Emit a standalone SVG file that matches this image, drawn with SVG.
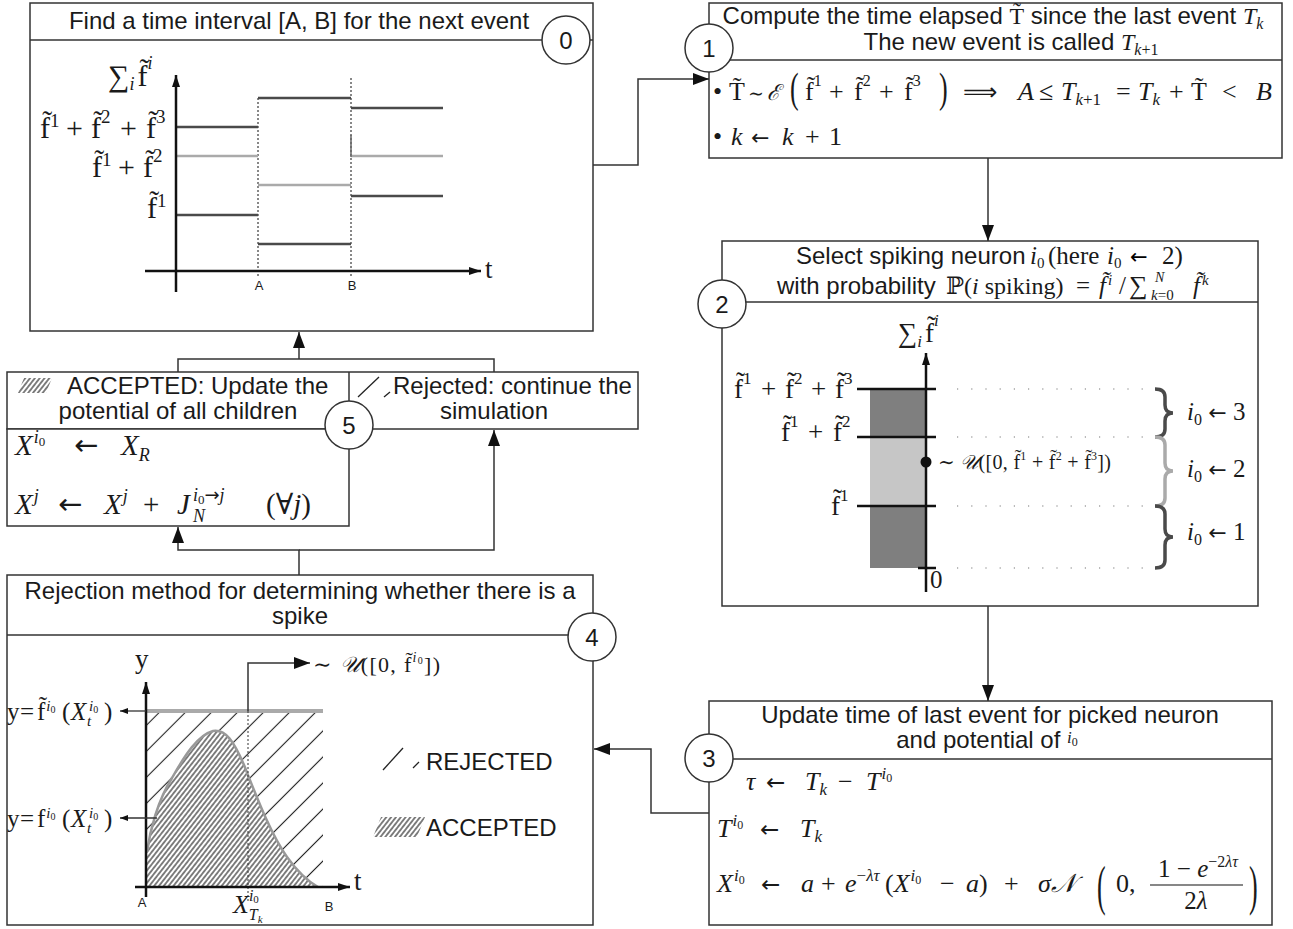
<svg xmlns="http://www.w3.org/2000/svg" width="1293" height="929" viewBox="0 0 1293 929" font-size="24">
<defs>
<style>
.box{fill:#fff;stroke:#333;stroke-width:1.5}
.ln{stroke:#333;stroke-width:1.5;fill:none}
.t{font-family:"Liberation Sans",Arial,sans-serif;font-size:24px;fill:#1a1a1a}
.m{font-family:"Liberation Serif","DejaVu Serif",serif;fill:#1a1a1a}
.i{font-style:italic}
.ar{font-family:"DejaVu Sans",sans-serif;font-style:normal}
.badge circle{fill:#fff;stroke:#333;stroke-width:1.5}
.badge text{font-family:"Liberation Sans",Arial,sans-serif;font-size:24px;text-anchor:middle;fill:#1a1a1a}
.conn path{fill:none;stroke:#333;stroke-width:1.5}
.dk{stroke:#4a4a4a;stroke-width:2.5}
.lt{stroke:#aaa;stroke-width:2.5}
.ax{stroke:#111;stroke-width:2.5;fill:none}
.lab{font-family:"Liberation Sans",Arial,sans-serif;font-size:13px;text-anchor:middle;fill:#1a1a1a}
.dot{stroke:#777;stroke-width:1.2;stroke-dasharray:1.2,13}
</style>
<marker id="ah" viewBox="0 0 16 12" refX="16" refY="6" markerWidth="16" markerHeight="12" markerUnits="userSpaceOnUse" orient="auto"><path d="M0,0 L16,6 L0,12 z" fill="#111"/></marker>
<marker id="ax" viewBox="0 0 12 8" refX="12" refY="4" markerWidth="12" markerHeight="8" markerUnits="userSpaceOnUse" orient="auto"><path d="M0,0 L12,4 L0,8 z" fill="#111"/></marker>
<marker id="sm" viewBox="0 0 8 6" refX="8" refY="3" markerWidth="8" markerHeight="6" markerUnits="userSpaceOnUse" orient="auto"><path d="M0,0 L8,3 L0,6 z" fill="#111"/></marker>
<pattern id="rej" width="18.4" height="18.4" patternUnits="userSpaceOnUse" patternTransform="rotate(45)"><line x1="9.2" y1="0" x2="9.2" y2="18.4" stroke="#222" stroke-width="1.1"/></pattern>
<pattern id="acc" width="3.8" height="10" patternUnits="userSpaceOnUse" patternTransform="rotate(38)"><line x1="1.9" y1="0" x2="1.9" y2="10" stroke="#1a1a1a" stroke-width="1.1"/></pattern>
</defs>
<rect width="1293" height="929" fill="#fff"/>

<g id="node0">
<rect class="box" x="30" y="3" width="563" height="328"/>
<line class="ln" x1="30" y1="40" x2="593" y2="40"/>
<text class="t" x="299" y="29" text-anchor="middle">Find a time interval [A, B] for the next event</text>
<line x1="258" y1="98" x2="258" y2="276" stroke="#111" stroke-width="1" stroke-dasharray="2,2"/>
<line x1="351" y1="78" x2="351" y2="276" stroke="#111" stroke-width="1" stroke-dasharray="2,2"/>
<line class="dk" x1="176" y1="127" x2="258" y2="127"/>
<line class="lt" x1="176" y1="156" x2="258" y2="156"/>
<line class="dk" x1="176" y1="215" x2="258" y2="215"/>
<line class="dk" x1="258" y1="98" x2="351" y2="98"/>
<line class="lt" x1="258" y1="185" x2="351" y2="185"/>
<line class="dk" x1="258" y1="244" x2="351" y2="244"/>
<line class="dk" x1="351" y1="108" x2="443" y2="108"/>
<line class="lt" x1="351" y1="156" x2="443" y2="156"/>
<line class="dk" x1="351" y1="196" x2="443" y2="196"/>
<line x1="351" y1="135" x2="351" y2="157" stroke="#666" stroke-width="1.5"/>
<line class="ax" x1="176" y1="292" x2="176" y2="75" marker-end="url(#ax)"/>
<line class="ax" x1="145" y1="271" x2="481" y2="271" marker-end="url(#ax)"/>
<text class="lab" x="259" y="290">A</text>
<text class="lab" x="352" y="290">B</text>
<text class="m" x="485" y="278" font-size="27">t</text>
<text class="m" x="108" y="86" font-size="30">∑<tspan class="i" font-size="18" dy="4">i</tspan><tspan dx="3" dy="-4">f̃</tspan><tspan class="i" font-size="18" dy="-17">i</tspan></text>
<text class="m" y="138" font-size="30" fill="#3a3a3a"><tspan x="40">f̃</tspan><tspan font-size="19" dy="-11">1</tspan><tspan x="66" dy="11">+</tspan><tspan x="91">f̃</tspan><tspan font-size="19" dy="-15">2</tspan><tspan x="120" dy="15">+</tspan><tspan x="146">f̃</tspan><tspan font-size="19" dy="-15">3</tspan></text>
<text class="m" y="177" font-size="30" fill="#aaa"><tspan x="92">f̃</tspan><tspan font-size="19" dy="-11">1</tspan><tspan x="118" dy="11">+</tspan><tspan x="143">f̃</tspan><tspan font-size="19" dy="-15">2</tspan></text>
<text class="m" y="218" font-size="30" fill="#3a3a3a"><tspan x="147">f̃</tspan><tspan font-size="19" dy="-11">1</tspan></text>
</g>

<g id="node1">
<rect class="box" x="709" y="3" width="573" height="155"/>
<line class="ln" x1="709" y1="60" x2="1282" y2="60"/>
<text x="993" y="24" text-anchor="middle"><tspan class="t">Compute the time elapsed </tspan><tspan class="m">T̃</tspan><tspan class="t"> since the last event </tspan><tspan class="m i">T</tspan><tspan class="m i" font-size="16" dy="5">k</tspan></text>
<text x="1011" y="50" text-anchor="middle"><tspan class="t">The new event is called </tspan><tspan class="m i">T</tspan><tspan class="m" font-size="16" dy="5"><tspan class="i">k</tspan>+1</tspan></text>
<text class="m" y="100" font-size="26"><tspan x="713">•</tspan><tspan x="729">T̃</tspan><tspan x="748" font-size="19">∼</tspan><tspan x="767" class="i" font-size="22">ℰ</tspan><tspan x="805">f̃</tspan><tspan font-size="16" dy="-14">1</tspan><tspan x="829" dy="14">+</tspan><tspan x="854">f̃</tspan><tspan font-size="16" dy="-14">2</tspan><tspan x="879" dy="14">+</tspan><tspan x="904">f̃</tspan><tspan font-size="16" dy="-14">3</tspan><tspan x="963" dy="14" class="ar" font-size="24">⟹</tspan><tspan x="1018" class="i">A</tspan><tspan x="1039">≤</tspan><tspan x="1061" class="i">T</tspan><tspan font-size="17" dy="5"><tspan class="i">k</tspan>+1</tspan><tspan x="1116" dy="-5">=</tspan><tspan x="1138" class="i">T</tspan><tspan font-size="17" class="i" dy="5">k</tspan><tspan x="1169" dy="-5">+</tspan><tspan x="1191">T̃</tspan><tspan x="1222">&lt;</tspan><tspan x="1256" class="i">B</tspan></text>
<text class="m" font-size="26" transform="translate(790,102) scale(1,1.6)">(</text>
<text class="m" font-size="26" transform="translate(939,102) scale(1,1.6)">)</text>
<text class="m" y="145" font-size="26"><tspan x="713">•</tspan><tspan x="731" class="i">k</tspan><tspan x="751" class="ar" font-size="22">←</tspan><tspan x="782" class="i">k</tspan><tspan x="805">+</tspan><tspan x="829">1</tspan></text>
</g>

<g id="node2">
<rect class="box" x="722" y="241" width="536" height="365"/>
<line class="ln" x1="722" y1="302" x2="1258" y2="302"/>
<text y="264"><tspan class="t" x="796">Select spiking neuron </tspan><tspan class="m i" x="1030" font-size="25">i</tspan><tspan class="m" font-size="15" dy="4">0</tspan><tspan class="m" font-size="25" x="1048" dy="-4">(here</tspan><tspan class="m i" font-size="25" x="1107">i</tspan><tspan class="m" font-size="15" dy="4">0</tspan><tspan class="ar" font-size="21" x="1130" dy="-4">←</tspan><tspan class="m" font-size="25" x="1162">2)</tspan></text>
<text y="294"><tspan class="t" x="777">with probability </tspan><tspan class="m" font-size="24" x="946">ℙ(<tspan class="i">i</tspan> spiking)</tspan><tspan class="m" font-size="25" x="1076">=</tspan><tspan class="m i" font-size="25" x="1099">f̃</tspan><tspan class="m i" font-size="15" dx="2" dy="-9">i</tspan><tspan class="m" font-size="25" x="1119" dy="9">/</tspan><tspan class="m" font-size="26" x="1129">∑</tspan><tspan class="m" font-size="15" x="1151" dy="6"><tspan class="i">k</tspan>=0</tspan><tspan class="m i" font-size="14" x="1155" dy="-18">N</tspan><tspan class="m i" font-size="25" x="1193" dy="12">f̃</tspan><tspan class="m i" font-size="15" dx="2" dy="-9">k</tspan></text>
<rect x="870" y="389" width="56" height="179" fill="#7f7f7f"/>
<rect x="870" y="437" width="56" height="69" fill="#c6c6c6"/>
<line class="dot" x1="957" y1="389" x2="1155" y2="389"/>
<line class="dot" x1="957" y1="437" x2="1155" y2="437"/>
<line class="dot" x1="957" y1="506" x2="1155" y2="506"/>
<line class="dot" x1="957" y1="568" x2="1155" y2="568"/>
<line class="ax" x1="926" y1="592" x2="926" y2="353" marker-end="url(#ax)"/>
<line class="ax" x1="857" y1="389" x2="936" y2="389"/>
<line class="ax" x1="857" y1="437" x2="936" y2="437"/>
<line class="ax" x1="857" y1="506" x2="936" y2="506"/>
<line class="ax" x1="918" y1="568" x2="936" y2="568"/>
<circle cx="926" cy="462" r="5.5" fill="#111"/>
<path d="M1155,389 Q1165,389 1165,397 V405 Q1165,413 1173,413 Q1165,413 1165,421 V429 Q1165,437 1155,437" fill="none" stroke="#4a4a4a" stroke-width="3.5"/>
<path d="M1155,437 Q1165,437 1165,445 V463 Q1165,471 1173,471 Q1165,471 1165,479 V498 Q1165,506 1155,506" fill="none" stroke="#aaa" stroke-width="3.5"/>
<path d="M1155,506 Q1165,506 1165,514 V529 Q1165,537 1173,537 Q1165,537 1165,545 V560 Q1165,568 1155,568" fill="none" stroke="#4a4a4a" stroke-width="3.5"/>
<text class="m" x="1187" y="420" fill="#333" font-size="25"><tspan class="i">i</tspan><tspan font-size="16" dy="5">0</tspan><tspan dy="-5"> <tspan class="ar" font-size="22">←</tspan> 3</tspan></text>
<text class="m" x="1187" y="477" fill="#333" font-size="25"><tspan class="i">i</tspan><tspan font-size="16" dy="5">0</tspan><tspan dy="-5"> <tspan class="ar" font-size="22">←</tspan> 2</tspan></text>
<text class="m" x="1187" y="540" fill="#333" font-size="25"><tspan class="i">i</tspan><tspan font-size="16" dy="5">0</tspan><tspan dy="-5"> <tspan class="ar" font-size="22">←</tspan> 1</tspan></text>
<text class="m" x="898" y="342" font-size="27">∑<tspan class="i" font-size="17" dy="5">i</tspan><tspan dx="3" dy="-5">f̃</tspan><tspan class="i" font-size="17" dy="-16">i</tspan></text>
<text class="m" y="398" font-size="27" fill="#3a3a3a"><tspan x="734">f̃</tspan><tspan font-size="17" dy="-14">1</tspan><tspan x="761" dy="14">+</tspan><tspan x="785">f̃</tspan><tspan font-size="17" dy="-14">2</tspan><tspan x="811" dy="14">+</tspan><tspan x="835">f̃</tspan><tspan font-size="17" dy="-14">3</tspan></text>
<text class="m" y="441" font-size="27" fill="#aaa"><tspan x="781">f̃</tspan><tspan font-size="17" dy="-14">1</tspan><tspan x="808" dy="14">+</tspan><tspan x="833">f̃</tspan><tspan font-size="17" dy="-14">2</tspan></text>
<text class="m" y="515" font-size="27" fill="#3a3a3a"><tspan x="831">f̃</tspan><tspan font-size="17" dy="-14">1</tspan></text>
<text class="m" x="930" y="588" font-size="25">0</text>
<text class="m" x="938" y="469" font-size="20" fill="#333" textLength="173" lengthAdjust="spacing">∼ <tspan class="i">𝒰</tspan>([0, f̃<tspan font-size="12" dy="-9">1</tspan><tspan dy="9"> + f̃</tspan><tspan font-size="12" dy="-9">2</tspan><tspan dy="9"> + f̃</tspan><tspan font-size="12" dy="-9">3</tspan><tspan dy="9">])</tspan></text>
</g>

<g id="node3">
<rect class="box" x="709" y="701" width="563" height="224"/>
<line class="ln" x1="709" y1="759" x2="1272" y2="759"/>
<text class="t" x="990" y="723" text-anchor="middle">Update time of last event for picked neuron</text>
<text x="987" y="748" text-anchor="middle"><tspan class="t">and potential of </tspan><tspan class="m i" font-size="17" dy="-5">i</tspan><tspan class="m" font-size="12" dy="3">0</tspan></text>
<text class="m" y="790" font-size="26"><tspan x="746" class="i">τ</tspan><tspan x="766" class="ar" font-size="23">←</tspan><tspan x="805" class="i">T</tspan><tspan class="i" font-size="17" dy="5">k</tspan><tspan x="838" dy="-5">−</tspan><tspan x="866" class="i">T</tspan><tspan class="i" font-size="17" dx="1" dy="-11">i</tspan><tspan font-size="12" dy="3">0</tspan></text>
<text class="m" y="837" font-size="26"><tspan x="717" class="i">T</tspan><tspan class="i" font-size="17" dx="1" dy="-11">i</tspan><tspan font-size="12" dy="3">0</tspan><tspan x="760" dy="8" class="ar" font-size="23">←</tspan><tspan x="800" class="i">T</tspan><tspan class="i" font-size="17" dy="5">k</tspan></text>
<text class="m" y="892" font-size="26"><tspan x="717" class="i">X</tspan><tspan class="i" font-size="17" dx="1" dy="-11">i</tspan><tspan font-size="12" dy="3">0</tspan><tspan x="761" dy="8" class="ar" font-size="23">←</tspan><tspan x="801" class="i">a</tspan><tspan x="821">+</tspan><tspan x="845" class="i">e</tspan><tspan font-size="17" dy="-11">−<tspan class="i">λτ</tspan></tspan><tspan x="885" dy="11">(</tspan><tspan class="i">X</tspan><tspan class="i" font-size="17" dx="1" dy="-11">i</tspan><tspan font-size="12" dy="3">0</tspan><tspan x="940" dy="8">−</tspan><tspan x="966" class="i">a</tspan><tspan>)</tspan><tspan x="1004">+</tspan><tspan x="1038" class="i">σ𝒩</tspan></text>
<text class="m" font-size="26" transform="translate(1097,904) scale(1,2.1)">(</text>
<text class="m" x="1116" y="892" font-size="26">0,</text>
<text class="m" x="1198" y="877" text-anchor="middle" font-size="25">1 − <tspan class="i">e</tspan><tspan font-size="16" dy="-10">−2<tspan class="i">λτ</tspan></tspan></text>
<line x1="1150" y1="885" x2="1243" y2="885" stroke="#111" stroke-width="1.2"/>
<text class="m" x="1196" y="909" text-anchor="middle" font-size="25">2<tspan class="i">λ</tspan></text>
<text class="m" font-size="26" transform="translate(1249,904) scale(1,2.1)">)</text>
</g>

<g id="node4">
<rect class="box" x="7" y="575" width="586" height="350"/>
<line class="ln" x1="7" y1="635" x2="593" y2="635"/>
<text class="t" x="300" y="599" text-anchor="middle">Rejection method for determining whether there is a</text>
<text class="t" x="300" y="624" text-anchor="middle">spike</text>
<rect x="147" y="711" width="176" height="176" fill="url(#rej)"/>
<path d="M147,852 C150,830 158,800 172,778 C185,755 198,735 213,731 C226,729 234,742 244,765 C256,795 270,833 287,857 C297,871 307,881 318,887 L147,887 Z" fill="#fff"/>
<path d="M147,852 C150,830 158,800 172,778 C185,755 198,735 213,731 C226,729 234,742 244,765 C256,795 270,833 287,857 C297,871 307,881 318,887 L147,887 Z" fill="url(#acc)"/>
<path d="M147,852 C150,830 158,800 172,778 C185,755 198,735 213,731 C226,729 234,742 244,765 C256,795 270,833 287,857 C297,871 307,881 318,887" fill="none" stroke="#999" stroke-width="2.5"/>
<line x1="147" y1="711" x2="323" y2="711" stroke="#aaa" stroke-width="4"/>
<line x1="248" y1="711" x2="248" y2="903" stroke="#333" stroke-width="1" stroke-dasharray="2,2"/>
<line class="ax" x1="146" y1="897" x2="146" y2="682" marker-end="url(#ax)"/>
<line class="ax" x1="135" y1="887" x2="350" y2="887" marker-end="url(#ax)"/>
<path d="M248,711 V663 H310" fill="none" stroke="#333" stroke-width="1.5" marker-end="url(#ah)"/>
<line x1="146" y1="711" x2="120" y2="711" stroke="#333" stroke-width="1.3" marker-end="url(#sm)"/>
<line x1="157" y1="818" x2="120" y2="818" stroke="#333" stroke-width="1.3" marker-end="url(#sm)"/>
<text class="m" x="135" y="668" font-size="27">y</text>
<text class="m" x="354" y="890" font-size="27">t</text>
<text class="lab" x="142" y="907">A</text>
<text class="lab" x="329" y="911">B</text>
<text class="m" x="313" y="672" font-size="22" textLength="127" lengthAdjust="spacing">∼ <tspan class="i">𝒰</tspan>([0, f̃<tspan class="i" font-size="14" dy="-10">i</tspan><tspan font-size="10" dy="2">0</tspan><tspan dy="8">])</tspan></text>
<text class="m" x="233" y="913" font-size="26"><tspan class="i">X</tspan><tspan class="i" font-size="16" dy="-12">i</tspan><tspan font-size="11" dy="2">0</tspan><tspan class="i" font-size="16" dx="-10" dy="17">T</tspan><tspan class="i" font-size="11" dy="3">k</tspan></text>
<text class="m" y="720" font-size="25"><tspan x="7">y</tspan><tspan x="20">=</tspan><tspan x="37">f̃</tspan><tspan class="i" font-size="15" dx="1" dy="-9">i</tspan><tspan font-size="10" dy="2">0</tspan><tspan x="62" dy="7">(</tspan><tspan x="71" class="i">X</tspan><tspan class="i" font-size="15" x="89" dy="-9">i</tspan><tspan font-size="10" dy="2">0</tspan><tspan class="i" font-size="15" x="87" dy="13">t</tspan><tspan x="104" dy="-6">)</tspan></text>
<text class="m" y="827" font-size="25"><tspan x="7">y</tspan><tspan x="20">=</tspan><tspan x="37">f</tspan><tspan class="i" font-size="15" dx="1" dy="-9">i</tspan><tspan font-size="10" dy="2">0</tspan><tspan x="62" dy="7">(</tspan><tspan x="71" class="i">X</tspan><tspan class="i" font-size="15" x="89" dy="-9">i</tspan><tspan font-size="10" dy="2">0</tspan><tspan class="i" font-size="15" x="87" dy="13">t</tspan><tspan x="104" dy="-6">)</tspan></text>
<line x1="383" y1="770" x2="403" y2="748" stroke="#222" stroke-width="1.3"/>
<line x1="413" y1="768" x2="419" y2="762" stroke="#222" stroke-width="1.3"/>
<text class="t" x="426" y="770">REJECTED</text>
<polygon points="381,817 425,817 417,837 373,837" fill="url(#acc)"/>
<text class="t" x="426" y="836">ACCEPTED</text>
</g>

<g id="node5">
<rect class="box" x="7" y="372" width="631" height="57"/>
<line class="ln" x1="349" y1="372" x2="349" y2="429"/>
<rect class="box" x="7" y="429" width="342" height="97"/>
<polygon points="24,378 52,378 46,393 18,393" fill="url(#acc)"/>
<text class="t" x="67" y="394">ACCEPTED: Update the</text>
<text class="t" x="178" y="419" text-anchor="middle">potential of all children</text>
<line x1="358" y1="397" x2="379" y2="377" stroke="#222" stroke-width="1.3"/>
<line x1="384" y1="397" x2="390" y2="392" stroke="#222" stroke-width="1.3"/>
<text class="t" x="393" y="394">Rejected: continue the</text>
<text class="t" x="494" y="419" text-anchor="middle">simulation</text>
<text class="m" y="455" font-size="29"><tspan x="15" class="i">X</tspan><tspan class="i" font-size="18" dx="1" dy="-12">i</tspan><tspan font-size="13" dy="3">0</tspan><tspan x="74" dy="9" class="ar" font-size="29">←</tspan><tspan x="121" class="i">X</tspan><tspan class="i" font-size="18" dy="6">R</tspan></text>
<text class="m" y="514" font-size="29"><tspan x="15" class="i">X</tspan><tspan class="i" font-size="18" dx="1" dy="-12">j</tspan><tspan x="58" dy="12" class="ar" font-size="29">←</tspan><tspan x="104" class="i">X</tspan><tspan class="i" font-size="18" dx="1" dy="-12">j</tspan><tspan x="143" dy="12">+</tspan><tspan x="177" class="i">J</tspan><tspan x="193" class="i" font-size="18" dy="-13">i</tspan><tspan font-size="13" dy="3">0</tspan><tspan font-size="18" dy="-3" class="ar">→</tspan><tspan class="i" font-size="18">j</tspan><tspan x="193" class="i" font-size="18" dy="21">N</tspan><tspan x="266" dy="-8">(∀<tspan class="i">j</tspan>)</tspan></text>
</g>

<g id="connectors" class="conn">
<path d="M593,165 H638 V79 H709" marker-end="url(#ah)"/>
<path d="M988,158 V241" marker-end="url(#ah)"/>
<path d="M988,606 V701" marker-end="url(#ah)"/>
<path d="M709,813 H651 V749 H594" marker-end="url(#ah)"/>
<path d="M299,575 V550 H178 V527" marker-end="url(#ah)"/>
<path d="M299,550 H494 V430" marker-end="url(#ah)"/>
<path d="M178,372 V359 H494 V372"/>
<path d="M299,359 V332" marker-end="url(#ah)"/>
</g>

<g id="badge0" class="badge"><circle cx="566" cy="40" r="24"/><text x="566" y="49">0</text></g>
<g id="badge1" class="badge"><circle cx="709" cy="48" r="24"/><text x="709" y="57">1</text></g>
<g id="badge2" class="badge"><circle cx="722" cy="304" r="24"/><text x="722" y="313">2</text></g>
<g id="badge3" class="badge"><circle cx="709" cy="758" r="24"/><text x="709" y="767">3</text></g>
<g id="badge4" class="badge"><circle cx="592" cy="637" r="24"/><text x="592" y="646">4</text></g>
<g id="badge5" class="badge"><circle cx="349" cy="425" r="24"/><text x="349" y="434">5</text></g>
</svg>
